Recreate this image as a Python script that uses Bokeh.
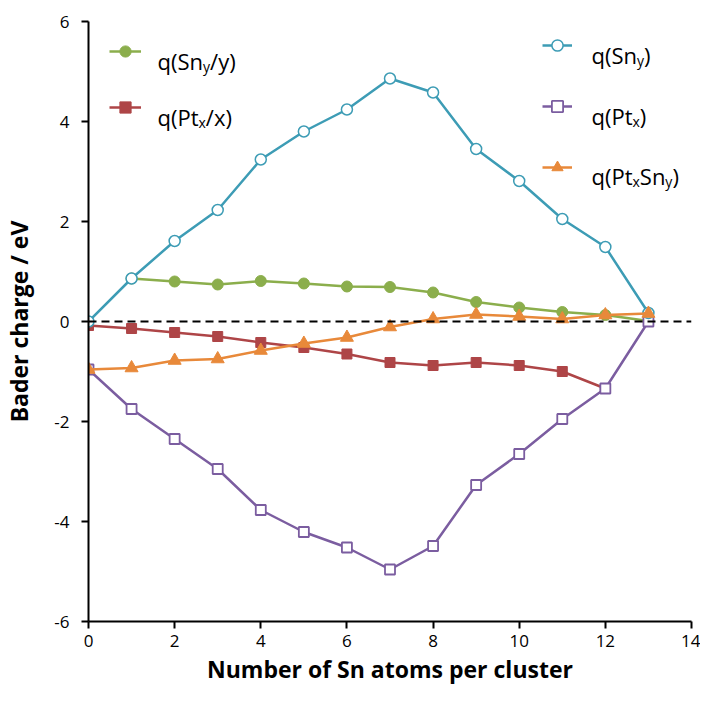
from bokeh.plotting import figure
from bokeh.models import (Range1d, FixedTicker, Span, Legend, LegendItem, Label)
from bokeh.embed import file_html
from bokeh.resources import INLINE

# ---------------- data ----------------
n_sn = list(range(14))
q_sn = [0.0, 0.86, 1.61, 2.23, 3.24, 3.80, 4.24, 4.86, 4.58, 3.45, 2.81, 2.05, 1.49, 0.17]
n_sn_per = list(range(1, 14))
q_sn_per = [0.86, 0.80, 0.74, 0.81, 0.76, 0.70, 0.69, 0.58, 0.39, 0.28, 0.19, 0.13, 0.01]
n_pt_per = list(range(0, 13))
q_pt_per = [-0.08, -0.14, -0.22, -0.30, -0.42, -0.52, -0.65, -0.82, -0.88, -0.82, -0.88, -1.00, -1.34]
q_pt = [-0.96, -1.75, -2.35, -2.95, -3.77, -4.21, -4.52, -4.96, -4.49, -3.27, -2.65, -1.95, -1.34, 0.0]
q_ptsn = [-0.96, -0.93, -0.78, -0.75, -0.58, -0.44, -0.32, -0.11, 0.05, 0.14, 0.10, 0.05, 0.13, 0.16]

x_ticks = [0, 2, 4, 6, 8, 10, 12, 14]
y_ticks = [-6, -4, -2, 0, 2, 4, 6]

FONT = "Open Sans"
TEAL = "#3D9CB5"
GREEN = "#8BAE4C"
RED = "#AE4547"
PURPLE = "#7B5DA0"
ORANGE = "#E8893A"

p = figure(width=700, height=688, output_backend="svg", toolbar_location=None,
           x_range=Range1d(0, 14), y_range=Range1d(-6, 6),
           min_border_left=87, min_border_right=9, min_border_top=21, min_border_bottom=67)
p.outline_line_color = None
p.grid.visible = False
p.background_fill_color = "white"
p.border_fill_color = "white"

for ax, ticks in ((p.xaxis[0], x_ticks), (p.yaxis[0], y_ticks)):
    ax.ticker = FixedTicker(ticks=ticks)
    ax.major_label_overrides = {t: str(t) for t in ticks}
    ax.axis_line_color = "black"
    ax.axis_line_width = 2
    ax.major_tick_line_color = "black"
    ax.major_tick_line_width = 2
    ax.major_tick_in = 0
    ax.major_tick_out = 7
    ax.minor_tick_in = 0
    ax.minor_tick_out = 0
    ax.major_label_text_font = FONT
    ax.major_label_text_font_size = "17px"
    ax.major_label_text_color = "black"
    ax.axis_label_text_font = FONT
    ax.axis_label_text_font_size = "23px"
    ax.axis_label_text_font_style = "bold"
    ax.axis_label_text_color = "black"

p.xaxis.axis_label = "Number of Sn atoms per cluster"
p.yaxis.axis_label = "Bader charge / eV"
p.xaxis.major_label_standoff = 6
p.yaxis.major_label_standoff = 12
p.xaxis.axis_label_standoff = 3
p.yaxis.axis_label_standoff = 16

p.add_layout(Span(location=0, dimension="width", line_color="black",
                  line_width=2, line_dash="8 5"))

LW = 2.5
g_l = p.line(n_sn_per, q_sn_per, line_color=GREEN, line_width=LW)
g_s = p.scatter(n_sn_per, q_sn_per, marker="circle", size=11, fill_color=GREEN, line_color=GREEN)
r_l = p.line(n_pt_per, q_pt_per, line_color=RED, line_width=LW)
r_s = p.scatter(n_pt_per, q_pt_per, marker="square", size=10, fill_color=RED, line_color=RED)
pu_l = p.line(n_sn, q_pt, line_color=PURPLE, line_width=LW)
pu_s = p.scatter(n_sn, q_pt, marker="square", size=10, fill_color="white", line_color=PURPLE, line_width=1.8)
t_l = p.line(n_sn, q_sn, line_color=TEAL, line_width=LW)
t_s = p.scatter(n_sn, q_sn, marker="circle", size=11, fill_color="white", line_color=TEAL, line_width=1.5)
o_l = p.line(n_sn, q_ptsn, line_color=ORANGE, line_width=LW)
o_s = p.scatter(n_sn, q_ptsn, marker="triangle", size=13, fill_color=ORANGE, line_color=ORANGE)


def make_legend(items, loc, gw, spacing):
    lg = Legend(items=[LegendItem(label=" ", renderers=list(r)) for r in items],
                location=loc, glyph_width=gw, glyph_height=28, label_height=28,
                label_width=1, label_standoff=0, spacing=spacing, padding=0, margin=0,
                border_line_alpha=0, background_fill_alpha=0,
                label_text_font_size="1px")
    p.add_layout(lg)


make_legend([(g_l, g_s), (r_l, r_s)], (21, 500), 32, 28)
make_legend([(t_l, t_s), (pu_l, pu_s), (o_l, o_s)], (454, 440), 30, 33)

W = {'q': .613, '(': .297, 'S': .547, 'n': .614, 'P': .603, 't': .353,
     '/': .368, 'y': .504, 'x': .52, ')': .297}


def rich(parts, x0, yb, size=22, sub_size=14, drop=6):
    x = x0
    for txt, sub in parts:
        fs = sub_size if sub else size
        p.add_layout(Label(x=x, y=yb - (drop if sub else 0), x_units="screen", y_units="screen",
                           text=txt, text_font=FONT, text_font_size=f"{fs}px",
                           text_baseline="alphabetic", text_align="left", text_color="black"))
        x += sum(W[c] for c in txt) * fs


rich([("q(Sn", False), ("y", True), ("/y)", False)], 69, 561)
rich([("q(Pt", False), ("x", True), ("/x)", False)], 69, 505)
rich([("q(Sn", False), ("y", True), (")", False)], 503, 567)
rich([("q(Pt", False), ("x", True), (")", False)], 503, 506)
rich([("q(Pt", False), ("x", True), ("Sn", False), ("y", True), (")", False)], 503, 446)

open("out.html", "w").write(file_html(p, INLINE))
